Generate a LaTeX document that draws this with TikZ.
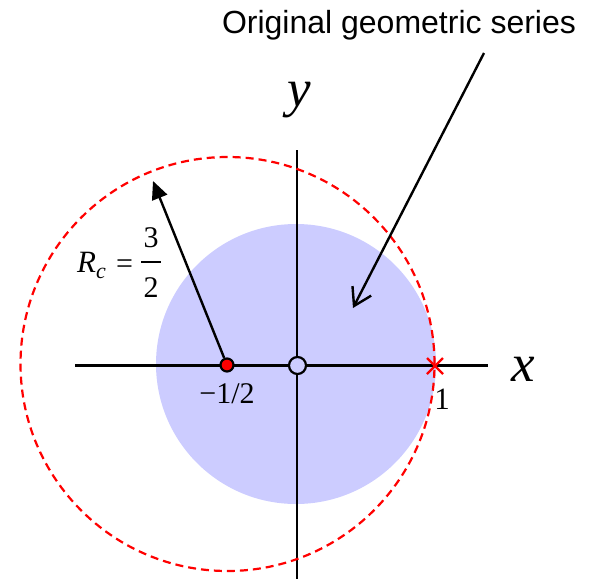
\documentclass[tikz,border=0pt]{standalone}
\usepackage{fontspec}
\setmainfont{Liberation Serif}
\newfontfamily\sansf{Liberation Sans}
\usetikzlibrary{arrows.meta}
\definecolor{diskblue}{RGB}{204,204,255}
\begin{document}
\begin{tikzpicture}[x=1pt,y=-1pt,
  axis/.style={line width=2.2pt},
  lbl/.style={inner sep=0pt, anchor=base},
  pt/.style={circle, draw, line width=2.2pt, inner sep=0pt},
  ptr/.style={line width=2.4pt}]
\useasboundingbox (0,0) rectangle (592,579);
% region of convergence of the original series
\fill[diskblue] (296,364) circle[radius=140pt];
% axes
\draw[axis] (75,365.5) -- (488,365.5);
\draw[axis] (297,150) -- (297,579);
% new circle of convergence
\draw[red, line width=2.2pt, dash pattern=on 8pt off 5pt] (227.5,364) circle[radius=207pt];
% points
\node[pt, fill=diskblue, minimum size=17pt] (o) at (297.5,365.5) {};
\node[pt, fill=red, minimum size=13pt] (p) at (227,365) {};
\coordinate (c1) at (435,366);
\draw[red, line width=2.2pt] ([shift={(-8,-8)}]c1) -- ([shift={(8,8)}]c1)
  ([shift={(-8,8)}]c1) -- ([shift={(8,-8)}]c1);
% labels
\node[lbl, font=\itshape\fontsize{53}{53}\selectfont] (ylab) at (299,106) {y};
\node[lbl, font=\itshape\fontsize{53}{53}\selectfont] (xlab) at (523,381) {x};
\node[lbl, font=\fontsize{31}{31}\selectfont] (one) at (442,409) {1};
\node[lbl, font=\fontsize{30}{30}\selectfont] (mhalf) at (227,403) {\char"2212 1/2};
\node[lbl, anchor=base west, font=\fontsize{31}{31}\selectfont] (rc) at (77,272)
  {\textit{R}\raisebox{-6pt}{\fontsize{22}{22}\selectfont\textit{c}}};
\node[lbl, font=\fontsize{30}{30}\selectfont] (eq) at (124.5,273) {=};
\node[lbl, font=\fontsize{30}{30}\selectfont] (num) at (151,247) {3};
\node[lbl, font=\fontsize{30}{30}\selectfont] (den) at (151,297) {2};
\draw[line width=1.4pt] (141,262) -- (161,262);
\node[inner sep=0pt, font=\sansf\fontsize{32}{32}\selectfont, anchor=base] (title) at (399,33) {Original geometric series};
% arrows
\coordinate (rtip) at (153,181);
\draw[ptr, -{Triangle[length=18pt,width=16pt]}] (p) -- (rtip);
\coordinate (s) at (484,53);
\coordinate (t) at (353,308);
\draw[ptr, -{Straight Barb[length=17pt,width=21pt,line width=2.4pt]}] (s) -- (t);
\end{tikzpicture}
\end{document}
